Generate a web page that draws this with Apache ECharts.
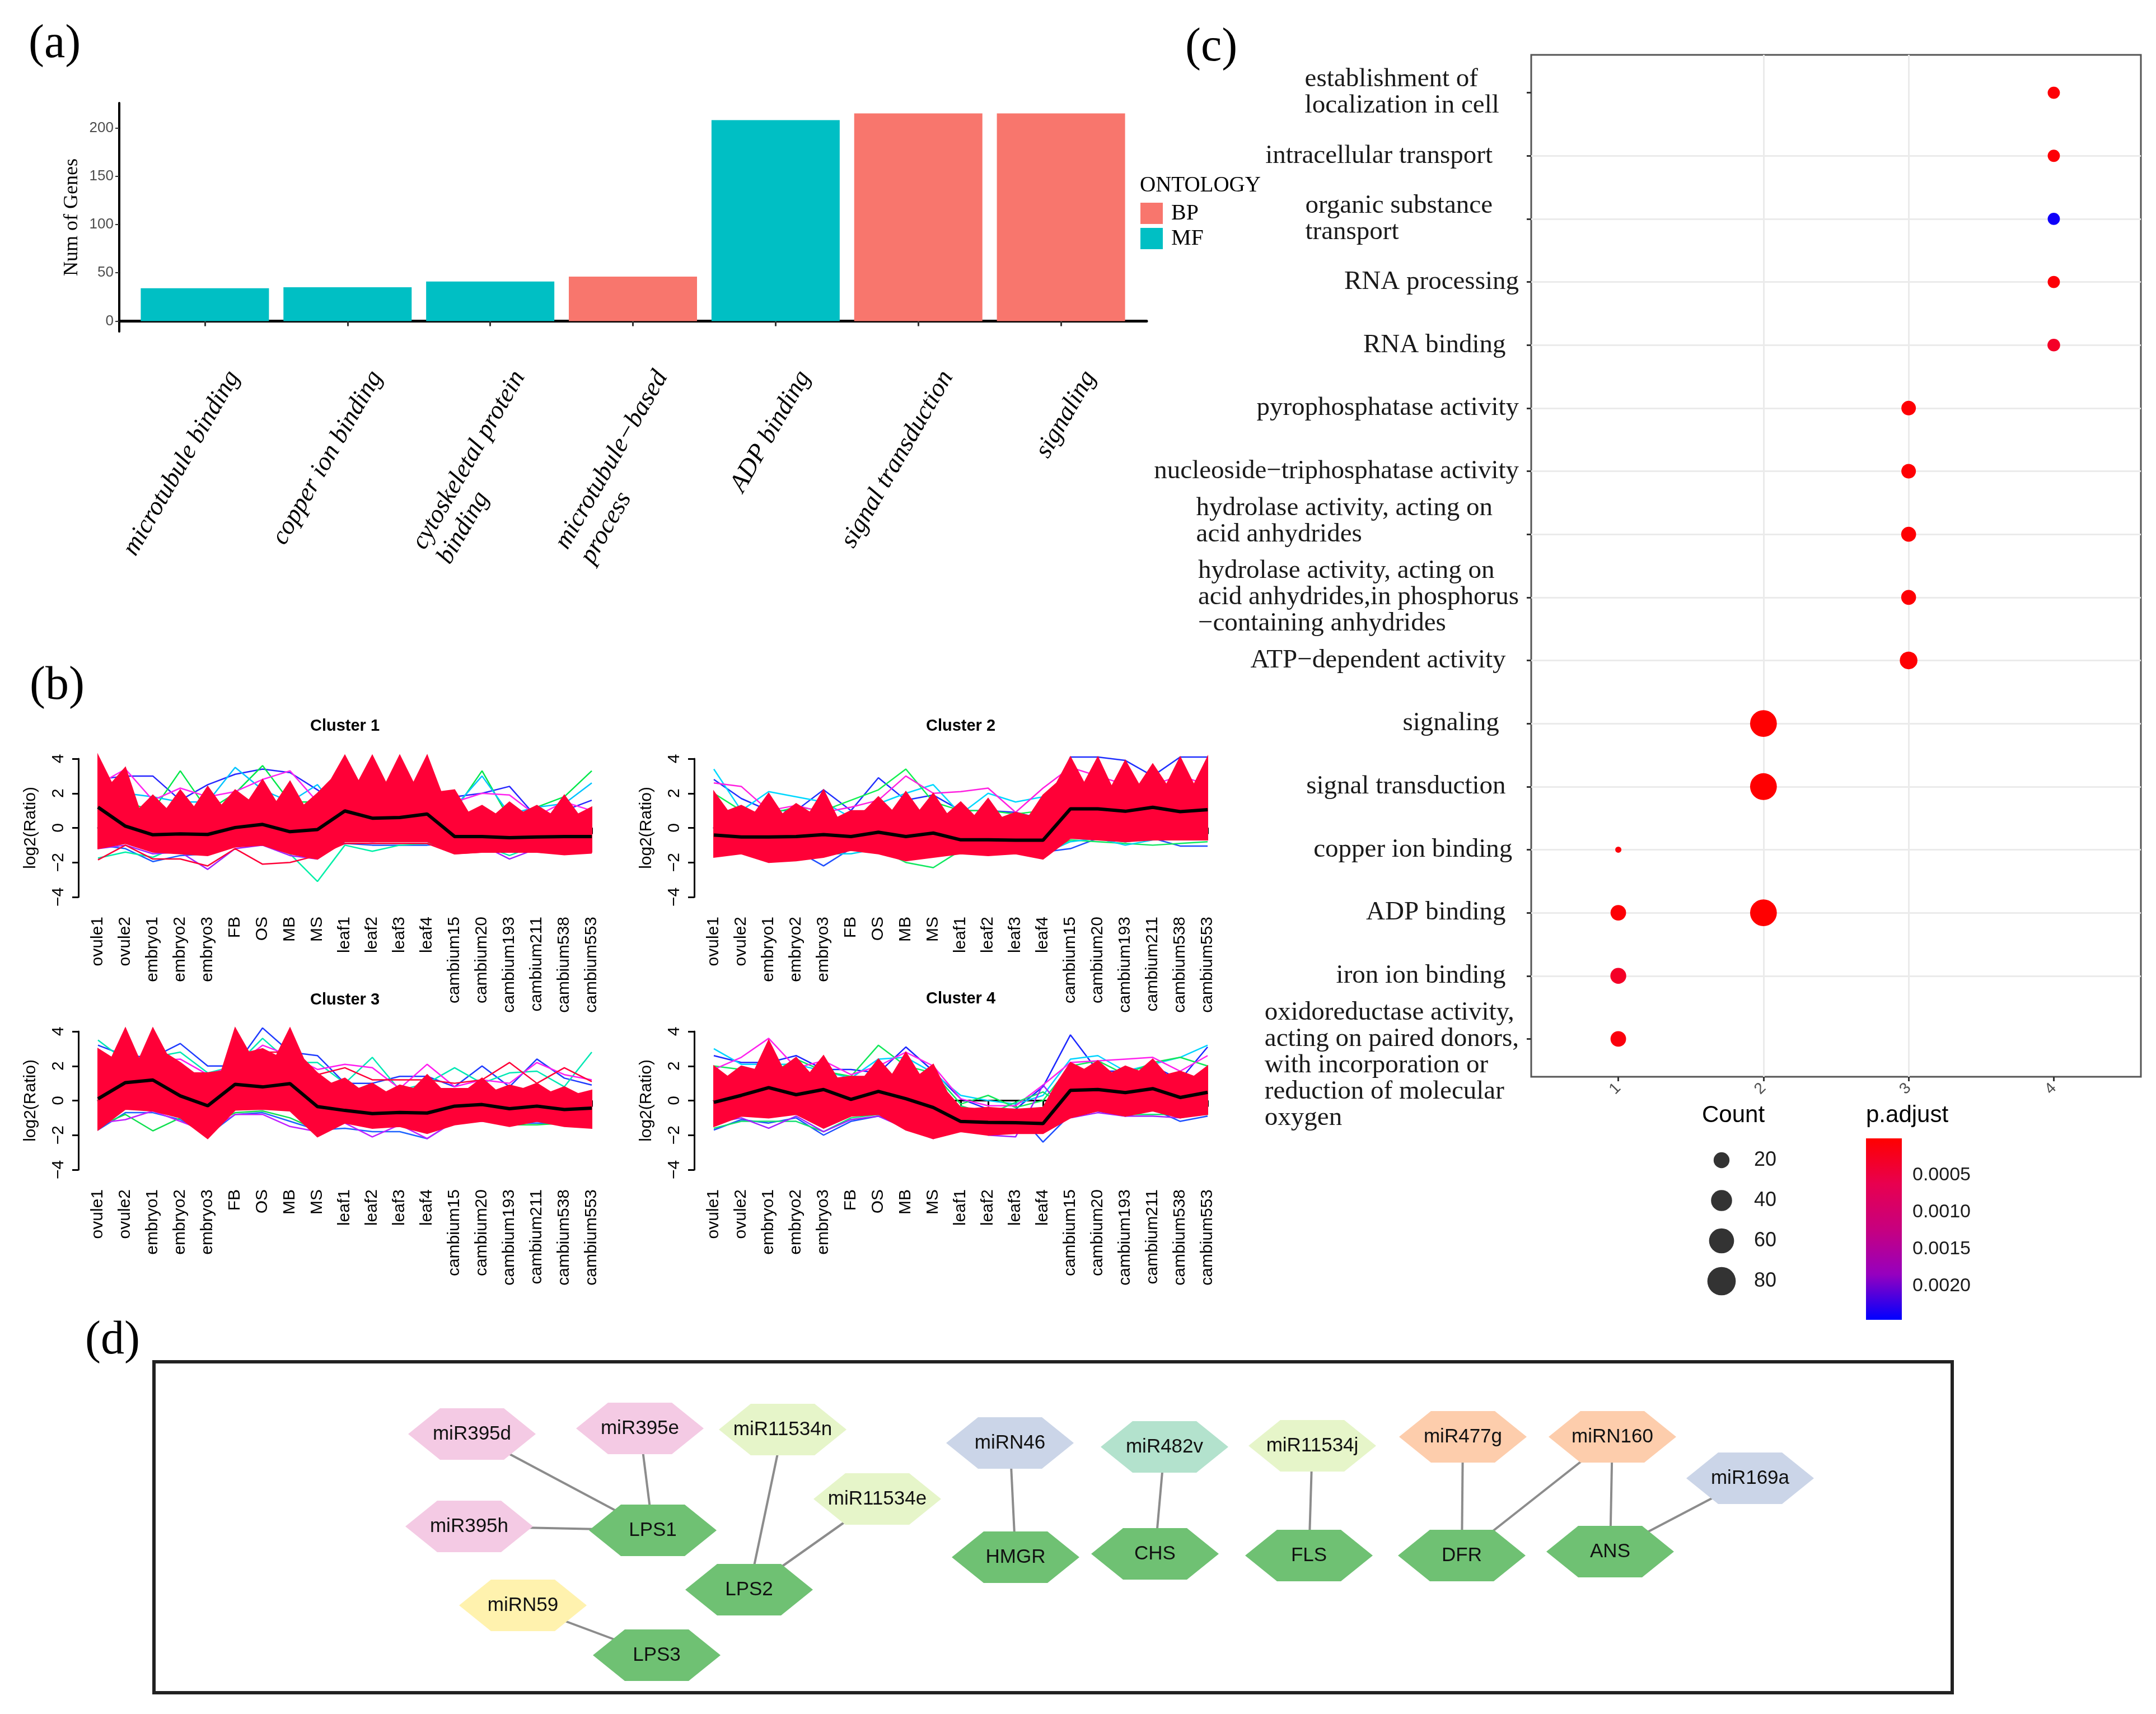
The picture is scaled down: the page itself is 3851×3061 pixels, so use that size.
<!DOCTYPE html>
<html>
<head>
<meta charset="utf-8">
<script src="https://cdn.jsdelivr.net/npm/echarts@6.0.0/dist/echarts.min.js"></script>
<style>
html, body { margin: 0; padding: 0; background: #fff; }
#main { width: 3851px; height: 3061px; }
</style>
</head>
<body>
<div id="main"></div>
<script>
// ---------- (a) GO bar chart ----------
var goTerms = ['microtubule binding', 'copper ion binding', 'cytoskeletal protein\nbinding',
  'microtubule\u2212based\nprocess', 'ADP binding', 'signal transduction', 'signaling'];
var goCounts = [34, 35, 41, 46, 208, 215, 215];
var goOntology = ['MF', 'MF', 'MF', 'BP', 'MF', 'BP', 'BP'];
var goTicks = [0, 50, 100, 150, 200];

// ---------- (b) Mfuzz clusters ----------
var samples = ['ovule1', 'ovule2', 'embryo1', 'embryo2', 'embryo3', 'FB', 'OS', 'MB', 'MS',
  'leaf1', 'leaf2', 'leaf3', 'leaf4', 'cambium15', 'cambium20', 'cambium193', 'cambium211',
  'cambium538', 'cambium553'];
var clusterTitles = ['Cluster 1', 'Cluster 2', 'Cluster 3', 'Cluster 4'];

// centre (black) lines
var c1Mean = [1.2, 0.1, -0.4, -0.35, -0.38, 0.02, 0.2, -0.22, -0.1, 0.98, 0.56, 0.6, 0.8, -0.5, -0.5, -0.57, -0.53, -0.5, -0.5];
var c2Mean = [-0.41, -0.53, -0.53, -0.5, -0.39, -0.5, -0.25, -0.5, -0.3, -0.69, -0.69, -0.71, -0.71, 1.1, 1.1, 0.96, 1.19, 0.94, 1.05];
var c3Mean = [0.1, 1.04, 1.19, 0.27, -0.3, 0.94, 0.79, 0.98, -0.35, -0.57, -0.75, -0.69, -0.72, -0.32, -0.23, -0.47, -0.32, -0.52, -0.44];
var c4Mean = [-0.1, 0.3, 0.75, 0.34, 0.64, 0.07, 0.53, 0.11, -0.4, -1.21, -1.26, -1.28, -1.33, 0.59, 0.64, 0.46, 0.69, 0.18, 0.48];

// upper edge of the red mass, read every half sample (1, 1.5, 2, ... 19)
var c1Upper = [4.2, 2.6, 3.5, 1.1, 1.9, 1.1, 2.2, 1.2, 2.4, 1.3, 2.2, 1.6, 2.8, 1.5, 2.7, 1.3, 2.0, 2.8, 4.2, 2.7, 4.2, 2.6, 4.2, 2.6, 4.2, 2.1, 2.2, 0.9, 1.3, 0.8, 1.5, 0.9, 1.3, 0.8, 1.9, 0.8, 1.2];
var c2Upper = [2.1, 1.0, 1.3, 0.9, 2.0, 0.8, 1.4, 0.9, 2.2, 0.6, 1.0, 1.0, 1.8, 1.0, 2.1, 1.0, 2.0, 0.8, 1.5, 0.7, 1.7, 0.6, 0.9, 0.7, 1.9, 2.6, 4.1, 2.6, 4.1, 2.4, 3.9, 2.5, 3.7, 2.5, 4.1, 2.5, 4.1];
var c3Upper = [3.0, 2.5, 4.2, 2.4, 4.2, 2.7, 2.2, 1.6, 1.6, 1.7, 4.2, 2.8, 3.0, 2.6, 4.2, 2.4, 1.6, 1.0, 1.3, 0.7, 1.0, 0.5, 0.9, 0.7, 1.5, 0.7, 0.7, 0.7, 1.3, 0.6, 0.9, 0.7, 1.0, 0.5, 0.8, 0.4, 0.6];
var c4Upper = [2.0, 1.4, 2.0, 1.8, 3.5, 1.9, 2.5, 1.6, 2.6, 1.3, 1.4, 1.4, 2.4, 1.5, 2.8, 1.5, 2.1, 0.5, -0.4, -0.45, -0.4, -0.45, -0.5, -0.45, -0.4, 1.0, 2.2, 1.8, 2.3, 1.6, 2.0, 1.7, 2.4, 1.5, 1.7, 1.4, 2.0];

// lower edge of the red mass, one value per sample
var c1Lower = [-1.2, -0.9, -1.4, -1.5, -1.6, -1.1, -1.0, -1.5, -1.8, -0.8, -0.8, -0.8, -0.8, -1.5, -1.4, -1.4, -1.4, -1.5, -1.4];
var c2Lower = [-1.7, -1.5, -2.0, -1.9, -1.7, -1.3, -1.5, -1.9, -1.7, -1.5, -1.6, -1.5, -1.8, -0.6, -0.7, -0.8, -0.7, -0.7, -0.7];
var c3Lower = [-1.7, -0.5, -0.6, -1.0, -2.2, -0.55, -0.5, -0.6, -2.1, -1.3, -1.6, -1.5, -1.9, -1.4, -1.2, -1.5, -1.2, -1.5, -1.6];
var c4Lower = [-1.5, -0.9, -1.0, -0.8, -1.6, -0.9, -0.8, -1.7, -2.2, -1.8, -2.0, -1.9, -1.9, -1.0, -0.6, -0.9, -0.6, -1.0, -0.8];

// single genes that stick out of the red mass
var c1Lines = [
  [2.8, 3.0, 3.0, 1.6, 2.5, 3.1, 3.4, 3.2, 2.2, 1.0, 1.0, 1.0, 1.0, 1.8, 2.0, 2.4, 0.6, 1.0, 1.6],
  [2.0, 1.5, 1.0, 3.3, 1.0, 2.0, 3.6, 1.5, 1.5, 0.5, 0.5, 0.5, 0.5, 1.0, 3.3, 0.5, 1.2, 1.8, 3.3],
  [1.5, 2.0, 1.8, 1.5, 1.5, 3.5, 2.2, 1.5, 2.5, 0.5, 0.5, 0.5, 0.5, 1.2, 3.0, 0.8, 1.2, 1.4, 2.6],
  [2.5, 3.4, 1.6, 2.3, 1.8, 2.1, 2.8, 3.3, 1.5, 0.6, 0.6, 0.6, 0.6, 1.5, 2.0, 1.9, 0.7, 1.5, 1.0],
  [-1.0, -1.2, -1.95, -1.6, -1.5, -1.0, -1.0, -1.3, -1.0, -0.9, -1.0, -1.0, -1.0, -0.9, -1.0, -1.2, -1.0, -1.0, -1.0],
  [-1.75, -1.4, -1.7, -1.0, -1.2, -1.0, -0.9, -1.5, -3.1, -1.0, -1.35, -1.0, -0.9, -1.0, -1.0, -1.6, -1.0, -1.0, -1.0],
  [-1.2, -1.0, -1.5, -1.4, -2.4, -1.2, -1.0, -1.6, -1.8, -0.7, -0.8, -0.7, -0.7, -1.0, -1.0, -1.8, -1.2, -1.2, -1.2],
  [-1.85, -1.0, -1.8, -1.8, -2.2, -1.2, -2.1, -2.0, -1.6, -0.9, -0.9, -0.9, -0.9, -1.5, -1.4, -1.4, -1.4, -1.55, -1.45]
];
var c2Lines = [
  [2.8, 1.7, 1.0, 1.0, 2.2, 1.0, 2.9, 1.6, 1.9, 1.0, 1.0, 0.9, 0.5, 4.1, 4.1, 3.9, 3.0, 4.1, 4.1],
  [3.4, 1.0, 2.1, 1.8, 1.5, 0.6, 1.4, 2.0, 2.5, 0.8, 2.0, 1.5, 1.8, 2.0, 1.5, 1.5, 1.5, 1.5, 1.5],
  [2.0, 1.0, 0.8, 1.2, 1.0, 1.6, 2.2, 3.4, 1.5, 1.0, 1.0, 0.8, 1.0, 1.5, 1.5, 1.5, 1.5, 1.5, 1.5],
  [2.6, 2.4, 1.0, 1.3, 0.9, 1.2, 1.6, 3.0, 2.0, 2.1, 2.3, 0.9, 2.3, 3.5, 3.0, 2.5, 2.5, 3.0, 2.5],
  [-1.3, -1.4, -1.4, -1.3, -2.2, -1.2, -1.3, -1.7, -1.5, -1.3, -1.5, -1.5, -1.4, -1.2, -0.6, -0.8, -0.6, -1.05, -1.05],
  [-1.3, -1.5, -1.4, -1.5, -1.3, -1.3, -1.2, -2.0, -2.3, -1.3, -1.4, -1.5, -1.5, -0.7, -0.8, -0.9, -1.0, -0.9, -0.8],
  [-1.2, -1.3, -1.6, -1.4, -1.5, -1.5, -1.2, -1.8, -1.6, -1.4, -1.5, -1.5, -1.5, -0.8, -0.6, -1.0, -0.7, -0.6, -0.6]
];
var c3Lines = [
  [3.2, 2.6, 2.5, 3.3, 2.0, 2.0, 4.2, 2.8, 2.6, 1.0, 1.0, 1.4, 1.4, 0.8, 2.0, 0.8, 2.4, 1.3, 0.9],
  [3.5, 2.3, 2.5, 2.8, 1.6, 2.0, 3.6, 2.2, 2.2, 1.0, 2.5, 0.6, 1.0, 1.9, 1.0, 1.6, 1.7, 0.8, 2.8],
  [2.5, 2.0, 2.3, 2.4, 1.5, 2.0, 3.2, 2.6, 1.8, 2.1, 1.9, 0.7, 2.1, 0.8, 1.2, 1.0, 2.2, 1.5, 1.2],
  [1.5, 1.5, 1.5, 1.5, 1.5, 1.5, 2.8, 2.8, 1.5, 1.9, 1.2, 1.2, 1.2, 1.0, 1.2, 2.2, 1.0, 1.9, 1.1],
  [-1.7, -0.7, -0.7, -1.1, -2.0, -0.8, -0.7, -1.2, -1.7, -1.6, -1.8, -1.8, -2.2, -1.2, -1.0, -1.3, -1.3, -1.3, -1.3],
  [-1.5, -0.8, -1.75, -1.0, -1.5, -0.7, -0.6, -1.0, -1.7, -1.2, -1.3, -1.3, -1.5, -1.0, -0.9, -1.4, -1.4, -1.3, -1.3],
  [-1.3, -1.1, -0.6, -1.2, -1.8, -0.8, -0.8, -1.5, -1.8, -1.3, -2.1, -1.4, -2.2, -1.2, -1.2, -1.2, -1.2, -1.3, -1.2]
];
var c4Lines = [
  [2.6, 2.2, 2.2, 2.6, 1.8, 1.8, 1.6, 3.1, 1.7, 0.1, -0.5, -0.5, 0.8, 3.8, 1.7, 1.7, 2.0, 1.2, 3.1],
  [3.0, 2.1, 2.1, 2.1, 1.7, 1.3, 2.4, 2.5, 1.6, 0.3, 0.0, -0.2, 0.3, 2.4, 2.6, 1.7, 2.1, 2.5, 3.2],
  [2.0, 1.8, 1.5, 2.4, 1.7, 1.4, 3.2, 2.0, 1.6, -0.2, 0.3, -0.4, 0.0, 2.0, 2.3, 1.5, 2.2, 2.5, 2.0],
  [1.8, 2.5, 3.6, 1.9, 2.3, 1.5, 2.0, 2.8, 2.0, 0.1, -0.3, -0.3, 0.9, 2.2, 2.3, 2.4, 2.5, 1.7, 2.6],
  [-1.7, -1.1, -1.3, -1.0, -2.0, -1.2, -0.9, -1.5, -2.0, -0.6, -0.5, -0.6, -2.4, -0.8, -0.6, -0.9, -0.5, -1.2, -0.9],
  [-1.6, -1.2, -1.2, -1.2, -1.8, -1.0, -0.8, -1.2, -2.0, -0.3, -0.8, -0.1, 0.5, -0.6, -0.4, -0.8, -0.8, -0.8, -0.8],
  [-1.3, -1.0, -1.6, -0.9, -1.8, -1.1, -0.9, -1.6, -2.2, -0.5, -2.0, -2.1, 0.9, -1.0, -0.7, -0.9, -0.9, -1.0, -0.7]
];
var c1Colors = ['#2828ff', '#00e84a', '#00c4ff', '#ff24f0', '#1a5cff', '#00f0a8', '#a020ff', '#ff0037'];
var c2Colors = ['#2030ff', '#00d8ff', '#12f050', '#ff20e0', '#2050ff', '#10e860', '#00d0f0'];
var c3Colors = ['#1f3cff', '#00e8b4', '#ff1cf0', '#ff0037', '#1e64ff', '#10e050', '#c020ff'];
var c4Colors = ['#1c28ff', '#00d4ff', '#12e85a', '#ff22ee', '#1e50ff', '#14e070', '#a020ff'];

// ---------- (c) GO enrichment dot plot ----------
var dotTerms = [
  'establishment of\nlocalization in cell   ',
  'intracellular transport    ',
  'organic substance    \ntransport',
  'RNA processing',
  'RNA binding  ',
  'pyrophosphatase activity',
  'nucleoside\u2212triphosphatase activity',
  'hydrolase activity, acting on    \nacid anhydrides\n',
  'hydrolase activity, acting on\nacid anhydrides,in phosphorus\n\u2212containing anhydrides',
  'ATP\u2212dependent activity  ',
  'signaling   ',
  'signal transduction  ',
  'copper ion binding ',
  'ADP binding  ',
  'iron ion binding  ',
  '\n\noxidoreductase activity,\nacting on paired donors,\nwith incorporation or\nreduction of molecular\noxygen'
];
var clusterIds = [1, 2, 3, 4];
var dotCluster = [4, 4, 4, 4, 4, 3, 3, 3, 3, 3, 2, 2, 1, 2, 1, 1, 1];
var dotTerm = [0, 1, 2, 3, 4, 5, 6, 7, 8, 9, 10, 11, 12, 13, 13, 14, 15];
var dotCount = [10, 10, 10, 10, 11, 16, 16, 17, 17, 26, 70, 70, 1, 70, 19, 20, 19];
var dotPadj = [0.00005, 0.00005, 0.0024, 0.00005, 0.0003, 0.00003, 0.00003, 0.00003, 0.00003, 0.00002,
  0.00001, 0.00001, 0.00008, 0.00001, 0.00005, 0.0003, 0.0001];
var countBreaks = [20, 40, 60, 80];
var padjBreaks = [0.0005, 0.0010, 0.0015, 0.0020];
var padjMax = 0.00246;

// ---------- (d) miRNA - target network ----------
var nodeNames = ['miR395d', 'miR395e', 'miR11534n', 'miR395h', 'LPS1', 'miR11534e', 'LPS2', 'miRN59', 'LPS3',
  'miRN46', 'HMGR', 'miR482v', 'CHS', 'miR11534j', 'FLS', 'miR477g', 'DFR', 'miRN160', 'ANS', 'miR169a'];
var nodeX = [568, 868, 1123, 563, 891, 1292, 1063, 659, 898, 1529, 1539, 1805, 1788, 2069, 2063, 2338, 2336, 2605, 2601, 2851];
var nodeY = [129, 119, 121, 294, 301, 245, 407, 435, 524, 145, 349, 152, 343, 150, 346, 134, 346, 134, 339, 208];
var nodeGroup = ['miR395', 'miR395', 'miR11534', 'miR395', 'target', 'miR11534', 'target', 'miRN59', 'target',
  'miRN46', 'target', 'miR482', 'target', 'miR11534', 'target', 'miR477', 'target', 'miR477', 'target', 'miRN46'];
var edges = [['miR395d', 'LPS1'], ['miR395e', 'LPS1'], ['miR395h', 'LPS1'], ['miR11534n', 'LPS2'],
  ['miR11534e', 'LPS2'], ['miRN59', 'LPS3'], ['miRN46', 'HMGR'], ['miR482v', 'CHS'], ['miR11534j', 'FLS'],
  ['miR477g', 'DFR'], ['miRN160', 'DFR'], ['miRN160', 'ANS'], ['miR169a', 'ANS']];

// ---------- styles ----------
var SERIF = '"Liberation Serif", "Times New Roman", serif';
var SANS = '"Liberation Sans", Arial, Helvetica, sans-serif';
var RED = '#ff0037';
var ONTO_COLORS = { BP: '#F8766D', MF: '#00BFC4' };
var GROUP_COLORS = { miR395: '#F4CAE4', miR11534: '#E6F5C9', miRN59: '#FFF2AE', miRN46: '#CBD5E8',
  miR482: '#B3E2CD', miR477: '#FDCDAC', target: '#6fc173' };
var PADJ_RAMP = ['#ff0000', '#e8004f', '#c7007f', '#9600bf', '#0000ff'];
var HEX = 'path://M25,0 L75,0 L100,50 L75,100 L25,100 L0,50 Z';

function seq(n) { var a = []; for (var i = 1; i <= n; i++) a.push(i); return a; }
function pick(arr) {
  return function (v) {
    var r = Math.round(v);
    if (Math.abs(v - r) > 1e-6 || r < 1 || r > arr.length) return '';
    return arr[r - 1];
  };
}
function richLines(str) {
  return str.split('\n').map(function (s) { return '{l|' + (s === '' ? ' ' : s) + '}'; }).join('\n');
}

var chart = echarts.init(document.getElementById('main'), null, { renderer: 'canvas' });

var grids = [
  { left: 213, top: 184, width: 1835, height: 408 },
  { left: 175, top: 1355, width: 882, height: 247 },
  { left: 1275, top: 1355, width: 882, height: 247 },
  { left: 175, top: 1842, width: 882, height: 247 },
  { left: 1275, top: 1842, width: 882, height: 247 },
  { left: 2735, top: 98, width: 1089, height: 1825, show: true, borderColor: '#555', borderWidth: 3, backgroundColor: 'transparent' },
  { left: 3040, top: 2036, width: 70, height: 288 },
  { left: 3333, top: 2033, width: 64, height: 324 },
  { left: 275, top: 2432, width: 3212, height: 591, show: true, borderColor: '#222', borderWidth: 6, backgroundColor: 'transparent' }
];
grids.forEach(function (g) { g.containLabel = false; g.outerBoundsMode = 'none'; });

var xAxes = [], yAxes = [], series = [];

// ---- (a) ----
var goX = seq(goTerms.length);
var goMax = Math.max.apply(null, goCounts);
xAxes.push({
  type: 'value', gridIndex: 0, min: 0.4, max: goTerms.length + 0.6, minInterval: 1, maxInterval: 1,
  axisLine: { show: true, lineStyle: { color: '#000', width: 5 } },
  axisTick: { show: true, length: 9, customValues: goX, lineStyle: { color: '#333', width: 3 } },
  axisLabel: {
    customValues: goX, showMinLabel: true, showMaxLabel: true, hideOverlap: false,
    rotate: 60, margin: 44, align: 'right', verticalAlign: 'top', padding: [34, 0, 0, 0],
    formatter: function (v) { var s = pick(goTerms)(v); return s ? richLines(s) : ''; },
    rich: { l: { fontFamily: SERIF, fontStyle: 'italic', fontSize: 46, lineHeight: 52, color: '#000', align: 'left' } }
  },
  splitLine: { show: false }
});
yAxes.push({
  type: 'value', gridIndex: 0, min: -0.05 * goMax, max: 1.05 * goMax, minInterval: 50, maxInterval: 50,
  axisLine: { show: true, lineStyle: { color: '#000', width: 4 } },
  axisTick: { show: true, length: 7, customValues: goTicks, lineStyle: { color: '#333', width: 2 } },
  axisLabel: { customValues: goTicks, showMinLabel: true, showMaxLabel: true, hideOverlap: false,
    fontFamily: SANS, fontSize: 26, color: '#4d4d4d', margin: 10,
    formatter: function (v) { return goTicks.indexOf(v) >= 0 ? String(v) : ''; } },
  splitLine: { show: false },
  name: 'Num of Genes', nameLocation: 'middle', nameGap: 66,
  nameTextStyle: { fontFamily: SERIF, fontSize: 36, color: '#000' }
});
['BP', 'MF'].forEach(function (ont) {
  var d = [];
  goCounts.forEach(function (c, i) { if (goOntology[i] === ont) d.push([i + 1, c]); });
  series.push({
    name: ont, type: 'bar', xAxisIndex: 0, yAxisIndex: 0, data: d,
    barWidth: 229, barGap: '-100%', itemStyle: { color: ONTO_COLORS[ont] }, silent: true
  });
});

// ---- (b) ----
var cMeans = [c1Mean, c2Mean, c3Mean, c4Mean];
var cUppers = [c1Upper, c2Upper, c3Upper, c4Upper];
var cLowers = [c1Lower, c2Lower, c3Lower, c4Lower];
var cLines = [c1Lines, c2Lines, c3Lines, c4Lines];
var cColors = [c1Colors, c2Colors, c3Colors, c4Colors];

for (var k = 0; k < 4; k++) {
  var ax = k + 1;
  xAxes.push({
    type: 'value', gridIndex: ax, min: 1, max: samples.length, interval: 1, offset: 11,
    axisLine: { show: true, lineStyle: { color: '#000', width: 3 } },
    axisTick: { show: true, length: 11, lineStyle: { color: '#000', width: 3 } },
    axisLabel: { rotate: 90, margin: 24, showMinLabel: true, showMaxLabel: true, hideOverlap: false,
      fontFamily: SANS, fontSize: 30, color: '#000', formatter: pick(samples) },
    splitLine: { show: false }
  });
  yAxes.push({
    type: 'value', gridIndex: ax, min: -4, max: 4, interval: 2, offset: 35,
    axisLine: { show: true, lineStyle: { color: '#000', width: 3 } },
    axisTick: { show: true, length: 11, lineStyle: { color: '#000', width: 3 } },
    axisLabel: { rotate: 90, margin: 20, showMinLabel: true, showMaxLabel: true, hideOverlap: false,
      fontFamily: SANS, fontSize: 30, color: '#000',
      formatter: function (v) { return String(v).replace('-', '\u2212'); } },
    splitLine: { show: false },
    name: 'log2(Ratio)', nameLocation: 'middle', nameGap: 70,
    nameTextStyle: { fontFamily: SANS, fontSize: 30, color: '#000' }
  });
  cLines[k].forEach(function (vals, j) {
    series.push({
      type: 'line', xAxisIndex: ax, yAxisIndex: ax, symbol: 'none', showSymbol: false, silent: true, clip: false, z: 2,
      data: vals.map(function (v, i) { return [i + 1, v]; }),
      lineStyle: { color: cColors[k][j], width: 2.5 }
    });
  });
  (function (up, lo, ax) {
    series.push({
      type: 'custom', xAxisIndex: ax, yAxisIndex: ax, data: [[1, 0]], silent: true, z: 3,
      renderItem: function (params, api) {
        var pts = [];
        for (var i = 0; i < up.length; i++) pts.push(api.coord([1 + i * 0.5, up[i]]));
        for (var j = lo.length - 1; j >= 0; j--) pts.push(api.coord([j + 1, lo[j]]));
        return { type: 'polygon', shape: { points: pts }, style: { fill: RED, stroke: RED, lineWidth: 2 } };
      }
    });
  })(cUppers[k], cLowers[k], ax);
  series.push({
    type: 'line', xAxisIndex: ax, yAxisIndex: ax, symbol: 'none', showSymbol: false, silent: true, clip: false, z: 4,
    data: cMeans[k].map(function (v, i) { return [i + 1, v]; }),
    lineStyle: { color: '#000', width: 6 }
  });
}

// ---- (c) ----
var termIdx = seq(dotTerms.length);
var termLabelStyle = {
  margin: 22, align: 'right', showMinLabel: true, showMaxLabel: true, hideOverlap: false,
  formatter: function (v) { var s = pick(dotTerms)(v); return s ? richLines(s) : ''; },
  rich: { l: { fontFamily: SERIF, fontSize: 47, lineHeight: 47, color: '#1a1a1a', align: 'left' } }
};
xAxes.push({
  type: 'value', gridIndex: 5, min: 0.4, max: clusterIds.length + 0.6, minInterval: 1, maxInterval: 1,
  axisLine: { show: false },
  axisTick: { show: true, length: 8, customValues: clusterIds, lineStyle: { color: '#333', width: 3 } },
  axisLabel: { customValues: clusterIds, showMinLabel: true, showMaxLabel: true, hideOverlap: false, rotate: 45, margin: 16,
    fontFamily: SANS, fontSize: 28, color: '#4d4d4d', formatter: function (v) { return pick(clusterIds.map(String))(v); } },
  splitLine: { show: true, showMinLine: false, showMaxLine: false, lineStyle: { color: '#ebebeb', width: 3 } }
});
yAxes.push({
  type: 'value', gridIndex: 5, min: 0.4, max: dotTerms.length + 0.6, inverse: true, minInterval: 1, maxInterval: 1,
  position: 'left',
  axisLine: { show: false },
  axisTick: { show: true, length: 8, customValues: termIdx, lineStyle: { color: '#333', width: 3 } },
  axisLabel: Object.assign({ customValues: termIdx.slice(0, -1) }, termLabelStyle),
  splitLine: { show: true, showMinLine: false, showMaxLine: false, lineStyle: { color: '#ebebeb', width: 3 } }
});
var dotSeriesIndex = series.length;
series.push({
  type: 'scatter', xAxisIndex: 5, yAxisIndex: 5, z: 5, silent: true,
  data: dotCluster.map(function (c, i) { return [c, dotTerm[i] + 1, dotPadj[i], dotCount[i]]; }),
  symbolSize: function (val) { return 6 + 5 * Math.sqrt(val[3]); },
  itemStyle: { opacity: 1 }
});

// Count legend
xAxes.push({ type: 'value', gridIndex: 6, min: -1, max: 1, show: false });
yAxes.push({
  type: 'category', gridIndex: 6, data: countBreaks.map(String), inverse: true, position: 'right',
  axisLine: { show: false }, axisTick: { show: false }, splitLine: { show: false },
  axisLabel: { margin: 23, interval: 0, fontFamily: SANS, fontSize: 36, color: '#1a1a1a' }
});
series.push({
  type: 'scatter', xAxisIndex: 6, yAxisIndex: 6, silent: true,
  data: countBreaks.map(function (c, i) { return [0, i, c]; }),
  symbolSize: function (val) { return 6 + 5 * Math.sqrt(val[2]); },
  itemStyle: { color: '#000' }
});

// p.adjust colour bar
xAxes.push({ type: 'category', gridIndex: 7, data: ['p.adjust'], show: false });
yAxes.push({
  type: 'value', gridIndex: 7, min: 0, max: padjMax, inverse: true, position: 'right',
  axisLine: { show: false },
  axisTick: { show: true, inside: true, length: 13, customValues: padjBreaks, lineStyle: { color: '#fff', width: 2 } },
  axisLabel: { customValues: padjBreaks, showMinLabel: true, showMaxLabel: true, hideOverlap: false, margin: 19,
    fontFamily: SANS, fontSize: 34, color: '#1a1a1a',
    formatter: function (v) { return (v > 0 && v < padjMax) ? v.toFixed(4) : ''; } },
  splitLine: { show: false }
});
series.push({
  type: 'bar', xAxisIndex: 7, yAxisIndex: 7, data: [padjMax], barWidth: '100%', silent: true,
  itemStyle: {
    color: new echarts.graphic.LinearGradient(0, 0, 0, 1, PADJ_RAMP.map(function (c, i) {
      return { offset: i / (PADJ_RAMP.length - 1), color: c };
    }))
  }
});

// ---- (d) ----
xAxes.push({ type: 'value', gridIndex: 8, min: 0, max: 3212, show: false });
yAxes.push({ type: 'value', gridIndex: 8, min: 0, max: 591, inverse: true, show: false });
series.push({
  type: 'graph', coordinateSystem: 'cartesian2d', xAxisIndex: 8, yAxisIndex: 8, layout: 'none', silent: true, z: 6,
  symbol: HEX, symbolSize: [228, 92],
  data: nodeNames.map(function (n, i) {
    return { name: n, value: [nodeX[i], nodeY[i]], itemStyle: { color: GROUP_COLORS[nodeGroup[i]] } };
  }),
  links: edges.map(function (e) { return { source: e[0], target: e[1] }; }),
  label: { show: true, position: 'inside', formatter: '{b}', fontFamily: SANS, fontSize: 35, color: '#111' },
  lineStyle: { color: '#8c8c8c', width: 4, opacity: 1, curveness: 0 },
  emphasis: { disabled: true }
});

// (c) last term on its own label axis so the tall label does not knock out its neighbour
yAxes.push({
  type: 'value', gridIndex: 5, min: 0.4, max: dotTerms.length + 0.6, inverse: true, position: 'left', offset: 0,
  axisLine: { show: false }, axisTick: { show: false }, splitLine: { show: false },
  axisLabel: Object.assign({ customValues: [dotTerms.length] }, termLabelStyle)
});

// ---- free text ----
function txt(str, x, y, size, family, align, extra) {
  var st = { text: str, fontSize: size, fontFamily: family, fill: '#000',
    textAlign: align, align: align, textVerticalAlign: 'middle', verticalAlign: 'middle' };
  if (extra) for (var p in extra) st[p] = extra[p];
  return { type: 'text', x: x, y: y, silent: true, z: 20, style: st };
}
var graphics = [
  txt('(a)', 51, 80, 84, SERIF, 'left'),
  txt('(b)', 53, 1226, 84, SERIF, 'left'),
  txt('(c)', 2117, 86, 84, SERIF, 'left'),
  txt('(d)', 152, 2395, 84, SERIF, 'left'),
  txt('ONTOLOGY', 2036, 332, 39, SERIF, 'left'),
  txt('Count', 3040, 1992, 42, SANS, 'left'),
  txt('p.adjust', 3333, 1992, 42, SANS, 'left')
];
var titleCentres = [[616, 1297], [1716, 1297], [616, 1786], [1716, 1784]];
clusterTitles.forEach(function (t, i) {
  graphics.push(txt(t, titleCentres[i][0], titleCentres[i][1], 29, SANS, 'center', { fontWeight: 'bold' }));
});

chart.setOption({
  animation: false,
  backgroundColor: '#ffffff',
  textStyle: { fontFamily: SANS },
  grid: grids,
  xAxis: xAxes,
  yAxis: yAxes,
  legend: {
    data: ['BP', 'MF'], left: 2037, top: 361, orient: 'vertical', icon: 'rect',
    itemWidth: 40, itemHeight: 38, itemGap: 5, padding: 0, selectedMode: false,
    textStyle: { fontFamily: SERIF, fontSize: 40, color: '#000', padding: [0, 0, 0, 10] }
  },
  visualMap: [{
    type: 'continuous', show: false, seriesIndex: dotSeriesIndex, dimension: 2,
    min: 0, max: padjMax, inRange: { color: PADJ_RAMP }
  }],
  graphic: graphics,
  series: series
});
</script>
</body>
</html>
